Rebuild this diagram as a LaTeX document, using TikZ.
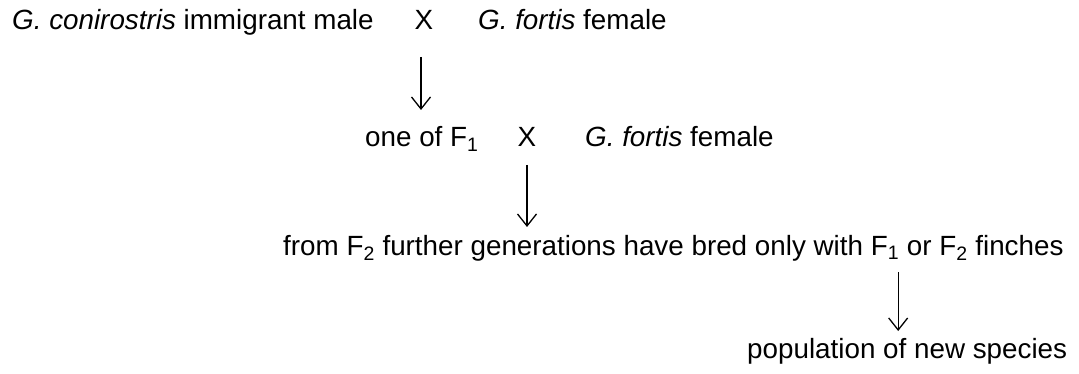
\documentclass[tikz,border=0pt]{standalone}
\usepackage{fontspec}
\setmainfont{Liberation Sans}
\usetikzlibrary{arrows.meta}
\tikzset{
every node/.style={ % plain text, no frame
inner sep=0pt,
font=\fontsize{27.8}{33}\selectfont},
txt/.style={anchor=base west},
cross/.style={anchor=base},
genarrow/.style={ % thin arrow with open head
draw,
line width=1.3pt,
-{Straight Barb[length=12pt,width=19pt,line width=1.3pt]}}}

\begin{document}
\begin{tikzpicture}[x=1pt,y=-1pt]
\useasboundingbox (0,0) rectangle (1079,374);
\node[txt] (male) at (12,30) {\textit{G. conirostris} immigrant male};
\node[cross] (x1) at (424,30) {X};
\node[txt] (fem1) at (478,30) {\textit{G. fortis} female};
\node[txt] (off) at (365,147) {one of F\textsubscript{1}};
\node[cross] (x2) at (527,147) {X};
\node[txt] (fem2) at (585,147) {\textit{G. fortis} female};
\node[txt] (gen) at (283,255) {from F\textsubscript{2} further generations have bred only with F\textsubscript{1} or F\textsubscript{2} finches};
\node[txt] (pop) at (747,358) {population of new species};
\coordinate (a1) at (x1.base |- off.base);
\coordinate (a2) at (x2.base |- gen.base);
\coordinate (a3) at (pop.base |- gen.base);
\draw[genarrow] ([xshift=-3pt,yshift=-27pt]x1.base) -- ([xshift=-3pt,yshift=37pt]a1);
\draw[genarrow] ([yshift=-18pt]x2.base) -- ([yshift=28pt]a2);
\draw[genarrow] ([xshift=-9pt,yshift=-17pt]a3) -- ([xshift=-9pt,yshift=27pt]pop.base);
\end{tikzpicture}
\end{document}
